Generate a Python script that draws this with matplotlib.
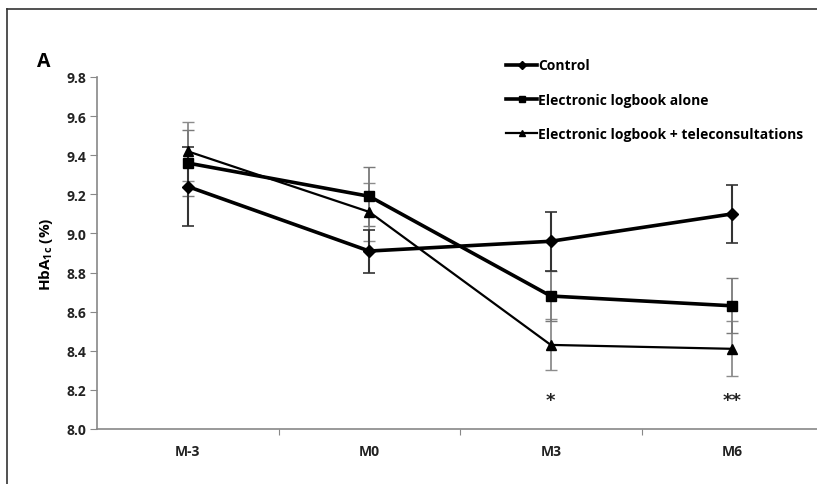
import matplotlib
matplotlib.use("Agg")
import matplotlib.pyplot as plt
from matplotlib.lines import Line2D

# 数据
visits = ["M-3", "M0", "M3", "M6"]
control = [9.24, 8.91, 8.96, 9.10]
control_err = [0.20, 0.11, 0.15, 0.15]
logbook = [9.36, 9.19, 8.68, 8.63]
logbook_err = [0.17, 0.15, 0.13, 0.14]
telecons = [9.42, 9.11, 8.43, 8.41]
telecons_err = [0.15, 0.15, 0.13, 0.14]
stars = {"M3": "*", "M6": "**"}
star_y = 8.15

plt.rcParams['font.family'] = ['Open Sans', 'DejaVu Sans']
plt.rcParams['font.weight'] = 'bold'
plt.rcParams['mathtext.fontset'] = 'custom'
plt.rcParams['mathtext.rm'] = 'Open Sans:bold'
plt.rcParams['mathtext.bf'] = 'Open Sans:bold'

fig = plt.figure(figsize=(8.17, 4.85), dpi=100)
ax = fig.add_axes([97 / 817, 55 / 485, 726 / 817, 352 / 485])

x = list(range(len(visits)))

# 误差线
ax.errorbar(x, telecons, yerr=telecons_err, fmt="none", ecolor="#8c8c8c",
            elinewidth=1.3, capsize=4, capthick=1.0, zorder=2)
ax.errorbar(x, logbook, yerr=logbook_err, fmt="none", ecolor="#7a7a7a",
            elinewidth=1.3, capsize=4, capthick=1.0, zorder=2)
ax.errorbar(x, control, yerr=control_err, fmt="none", ecolor="#333333",
            elinewidth=1.5, capsize=4, capthick=1.2, zorder=2)

# 折线
ax.plot(x, control, color="black", lw=2.6, marker="D", ms=6, label="Control", zorder=3)
ax.plot(x, logbook, color="black", lw=2.6, marker="s", ms=6.5,
        label="Electronic logbook alone", zorder=3)
ax.plot(x, telecons, color="black", lw=1.6, marker="^", ms=7,
        label="Electronic logbook + teleconsultations", zorder=3)

for v, s in stars.items():
    ax.text(visits.index(v), star_y, s, ha="center", va="center", fontsize=13,
            color="#222222", family="DejaVu Sans", fontweight="bold")

ax.set_xlim(-0.5, 3.5)
ax.set_ylim(8.0, 9.8)
ax.set_yticks([8.0 + 0.2 * i for i in range(10)])
ax.set_yticklabels([f"{8.0 + 0.2 * i:.1f}" for i in range(10)], fontsize=10, color="#222222",
                   fontweight="bold")
ax.set_xticks([0.5, 1.5, 2.5], minor=False)
ax.set_xticklabels([])
ax.set_xticks(x, minor=True)
ax.set_xticklabels(visits, minor=True, fontsize=10, color="#222222", fontweight="bold")
ax.tick_params(axis="x", which="minor", length=0, pad=11)
ax.tick_params(axis="x", which="major", length=4, color="#888888")
ax.tick_params(axis="y", length=5, color="#888888", pad=3)

for side in ["top", "right"]:
    ax.spines[side].set_visible(False)
for side in ["left", "bottom"]:
    ax.spines[side].set_color("#888888")
    ax.spines[side].set_linewidth(1.2)

ax.set_ylabel("HbA$_{\\mathbf{1c}}$ (%)", fontsize=11, labelpad=8, fontweight="bold")

fig.text(37 / 817, 1 - 62 / 485, "A", fontsize=14, fontweight="bold", va="center", ha="left")

leg = fig.legend(loc="upper left", bbox_to_anchor=(494 / 817, 1 - 47 / 485), frameon=False,
                 prop={"size": 10, "weight": "bold"}, handlelength=2.2, handletextpad=0.1,
                 labelspacing=1.45)
for h in leg.legend_handles:
    h.set_markersize(4.5)

# 外框
fig.add_artist(Line2D([7 / 817, 7 / 817], [0, 1 - 10 / 485], color="#333333", lw=1.2))
fig.add_artist(Line2D([7 / 817, 1], [1 - 10 / 485, 1 - 10 / 485], color="#333333", lw=1.2))

fig.savefig("out.png", dpi=100)
